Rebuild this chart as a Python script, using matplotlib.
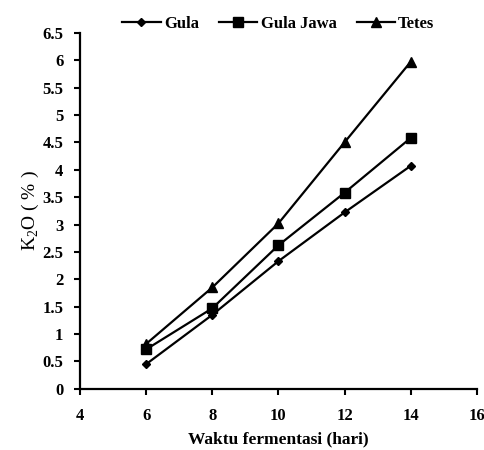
import matplotlib
matplotlib.use("Agg")
import matplotlib.pyplot as plt

plt.rcParams["font.family"] = "Liberation Serif"
plt.rcParams["mathtext.fontset"] = "custom"
plt.rcParams["mathtext.rm"] = "Liberation Serif"

# --- data ---
days = [6, 8, 10, 12, 14]
gula = [0.45, 1.35, 2.33, 3.22, 4.07]
gula_jawa = [0.72, 1.47, 2.62, 3.58, 4.58]
tetes = [0.82, 1.85, 3.02, 4.50, 5.97]

fig = plt.figure(figsize=(4.85, 4.5), dpi=100)
ax = fig.add_axes([0.165, 0.136, 0.818, 0.791])

ax.plot(days, gula, color="black", lw=1.6, marker="D", ms=4, label="Gula")
ax.plot(days, gula_jawa, color="black", lw=1.6, marker="s", ms=6.5, label="Gula Jawa")
ax.plot(days, tetes, color="black", lw=1.6, marker="^", ms=6.5, label="Tetes")

ax.set_xlim(4, 16)
ax.set_ylim(0, 6.5)
ax.set_xticks([4, 6, 8, 10, 12, 14, 16])
ax.set_yticks([0, 0.5, 1, 1.5, 2, 2.5, 3, 3.5, 4, 4.5, 5, 5.5, 6, 6.5])
ax.set_yticklabels(["0", "0.5", "1", "1.5", "2", "2.5", "3", "3.5", "4", "4.5", "5", "5.5", "6", "6.5"])

for s in ["top", "right"]:
    ax.spines[s].set_visible(False)
for s in ["left", "bottom"]:
    ax.spines[s].set_linewidth(1.6)
ax.tick_params(direction="out", length=4, width=1.5, labelsize=12)
ax.tick_params(axis="x", pad=10)
ax.tick_params(axis="y", pad=8)
for lab in ax.get_xticklabels() + ax.get_yticklabels():
    lab.set_fontweight("bold")

ax.set_xlabel("Waktu fermentasi (hari)", fontsize=12.5, fontweight="bold", labelpad=5)
ax.set_ylabel(r"K$_2$O ( % )", fontsize=14, labelpad=1)

ax.legend(loc="lower center", bbox_to_anchor=(0.5, 0.985), ncol=3, frameon=False,
          prop={"weight": "bold", "size": 12}, handlelength=2.3, handletextpad=0.2,
          columnspacing=1.2, borderaxespad=0)

fig.savefig("out.png", dpi=100)
